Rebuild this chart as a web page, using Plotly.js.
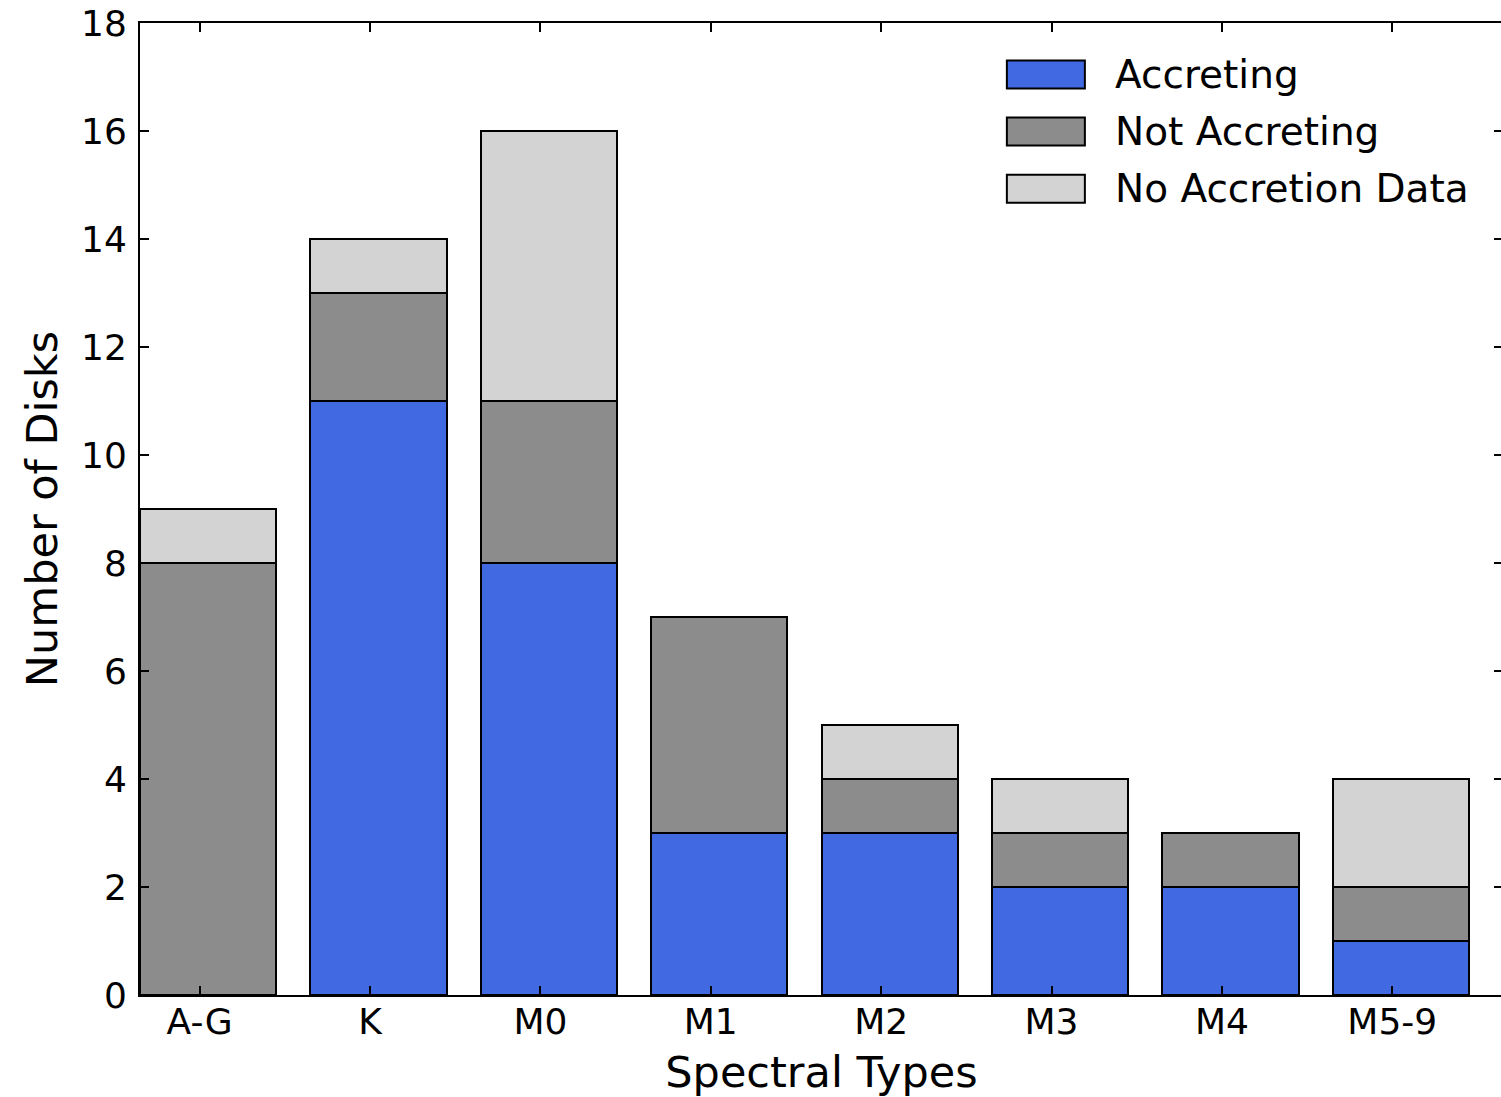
<!DOCTYPE html>
<html>
<head>
<meta charset="utf-8">
<script src="https://cdn.plot.ly/plotly-3.0.1.min.js"></script>
<style>
html, body { margin: 0; padding: 0; overflow: hidden; background: #fff; }
#chart { width: 1510px; height: 1097px; }
</style>
</head>
<body>
<div id="chart"></div>
<script>
// ---- data ----
const categories = ['A-G', 'K', 'M0', 'M1', 'M2', 'M3', 'M4', 'M5-9'];
const accreting = [0, 11, 8, 3, 3, 2, 2, 1];
const notAccreting = [8, 2, 3, 4, 1, 1, 1, 1];
const noAccretionData = [1, 1, 5, 0, 1, 1, 0, 2];
const seriesNames = ['Accreting', 'Not Accreting', 'No Accretion Data'];
const seriesColors = ['#4169e1', '#8c8c8c', '#d3d3d3'];
const yTicks = [0, 2, 4, 6, 8, 10, 12, 14, 16, 18];

// ---- layout constants ----
const FONT = 'DejaVu Sans, sans-serif';
const barWidth = 0.8;
const barCenters = categories.map((c, i) => i + barWidth / 2);
const tickPositions = categories.map((c, i) => i + 0.35);

const seriesValues = [accreting, notAccreting, noAccretionData];
const traces = seriesValues.map((vals, k) => ({
  type: 'bar',
  name: seriesNames[k],
  x: barCenters,
  y: vals,
  width: barWidth,
  marker: { color: seriesColors[k], line: { color: '#000', width: 2 } },
  showlegend: false,
  hoverinfo: 'name+y'
}));

// custom legend (large swatches like the reference)
const legX = 0.636, legTextX = 0.714, legY0 = 0.947, legDy = 0.0587;
const shapes = [];
const annotations = [];
seriesNames.forEach((name, k) => {
  const yc = legY0 - k * legDy;
  shapes.push({
    type: 'rect', xref: 'paper', yref: 'paper',
    xsizemode: 'pixel', ysizemode: 'pixel',
    xanchor: legX, yanchor: yc,
    x0: 0, x1: 78, y0: -14, y1: 14,
    fillcolor: seriesColors[k], line: { color: '#000', width: 2 }
  });
  annotations.push({
    xref: 'paper', yref: 'paper', x: legTextX, y: yc,
    xanchor: 'left', yanchor: 'middle', showarrow: false,
    text: name, font: { family: FONT, size: 39, color: '#000' }
  });
});

const layout = {
  width: 1510, height: 1097,
  margin: { l: 140, r: 7, t: 23, b: 102 },
  paper_bgcolor: '#fff', plot_bgcolor: '#fff',
  barmode: 'stack',
  font: { family: FONT, color: '#000' },
  xaxis: {
    range: [0, categories.length],
    tickmode: 'array', tickvals: tickPositions, ticktext: categories,
    ticks: 'inside', ticklen: 9, tickwidth: 2, tickcolor: '#000',
    showline: true, linecolor: '#000', linewidth: 2, mirror: 'allticks',
    showgrid: false, zeroline: false,
    tickfont: { family: FONT, size: 36, color: '#000' },
    ticklabelstandoff: -6,
    title: { text: 'Spectral Types', font: { family: FONT, size: 43, color: '#000' }, standoff: 16 }
  },
  yaxis: {
    range: [0, 18],
    tickmode: 'array', tickvals: yTicks,
    ticks: 'inside', ticklen: 9, tickwidth: 2, tickcolor: '#000',
    showline: true, linecolor: '#000', linewidth: 2, mirror: 'allticks',
    showgrid: false, zeroline: false,
    tickfont: { family: FONT, size: 36, color: '#000' },
    ticklabelstandoff: 4,
    title: { text: 'Number of Disks', font: { family: FONT, size: 43, color: '#000' }, standoff: 10 }
  },
  shapes: shapes,
  annotations: annotations
};

Plotly.newPlot('chart', traces, layout, { staticPlot: true, displayModeBar: false });
</script>
</body>
</html>
